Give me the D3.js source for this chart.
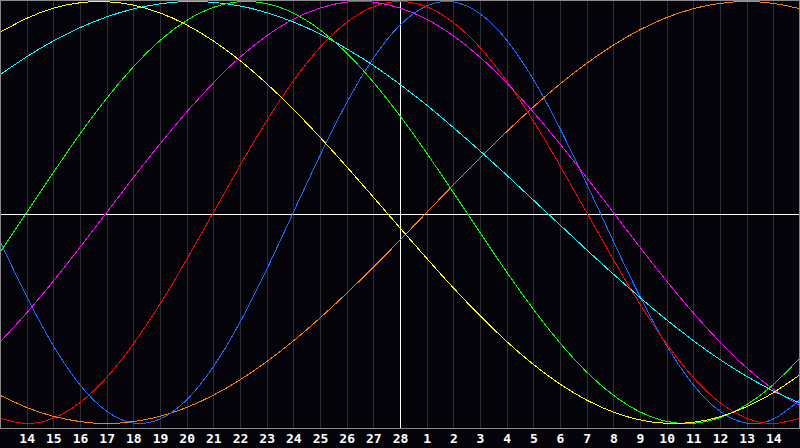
<!DOCTYPE html>
<html>
<head>
<meta charset="utf-8">
<script src="https://cdn.jsdelivr.net/npm/d3@7"></script>
<style>
  html, body { margin: 0; padding: 0; background: #05040a; }
  svg { display: block; }
</style>
</head>
<body>
<svg id="chart" width="800" height="448"></svg>
<script>
// Day labels shown on the axis (index 0..28)
const dayLabels = [14,15,16,17,18,19,20,21,22,23,24,25,26,27,28,1,2,3,4,5,6,7,8,9,10,11,12,13,14];
// Series values for day index -1 .. 29 (first and last are the neighbouring days, clipped at the plot edges)
const physical     = [-0.136,-0.398,-0.631,-0.817,-0.942,-0.998,-0.979,-0.888,-0.731,-0.520,-0.270,0,0.270,0.520,0.731,0.888,0.979,0.998,0.942,0.817,0.631,0.398,0.136,-0.136,-0.398,-0.631,-0.817,-0.942,-0.998,-0.979,-0.888];
const emotional    = [-0.975,-1,-0.975,-0.901,-0.782,-0.623,-0.434,-0.223,0,0.223,0.434,0.623,0.782,0.901,0.975,1,0.975,0.901,0.782,0.623,0.434,0.223,0,-0.223,-0.434,-0.623,-0.782,-0.901,-0.975,-1,-0.975];
const intellectual = [-0.189,0,0.189,0.372,0.541,0.690,0.815,0.910,0.972,0.999,0.990,0.945,0.866,0.756,0.618,0.458,0.282,0.095,-0.095,-0.282,-0.458,-0.618,-0.756,-0.866,-0.945,-0.990,-0.999,-0.972,-0.910,-0.815,-0.690];
const intuitive    = [-0.614,-0.476,-0.325,-0.165,0,0.165,0.325,0.476,0.614,0.736,0.837,0.916,0.969,0.997,0.997,0.969,0.916,0.837,0.736,0.614,0.476,0.325,0.165,0,-0.165,-0.325,-0.476,-0.614,-0.736,-0.837,-0.916];
const aesthetic    = [0.854,0.920,0.968,0.994,0.999,0.983,0.946,0.889,0.813,0.720,0.611,0.489,0.357,0.217,0.073,-0.073,-0.217,-0.357,-0.489,-0.611,-0.720,-0.813,-0.889,-0.946,-0.983,-0.999,-0.994,-0.968,-0.920,-0.854,-0.769];
const awareness    = [-0.866,-0.924,-0.966,-0.991,-1,-0.991,-0.966,-0.924,-0.866,-0.793,-0.707,-0.609,-0.5,-0.383,-0.259,-0.131,0,0.131,0.259,0.383,0.5,0.609,0.707,0.793,0.866,0.924,0.966,0.991,1,0.991,0.966];
const spiritual    = [0.653,0.738,0.813,0.876,0.927,0.965,0.989,1.000,0.996,0.979,0.947,0.903,0.846,0.776,0.697,0.607,0.509,0.403,0.292,0.177,0.059,-0.059,-0.177,-0.292,-0.403,-0.509,-0.607,-0.697,-0.776,-0.846,-0.903];

const seriesList = [
  { name: "awareness",    values: awareness,    color: "#ff8000" },
  { name: "physical",     values: physical,     color: "#1a6aff" },
  { name: "emotional",    values: emotional,    color: "#ff0000" },
  { name: "intuitive",    values: intuitive,    color: "#ff00ff" },
  { name: "spiritual",    values: spiritual,    color: "#00ffff" },
  { name: "intellectual", values: intellectual, color: "#00ff00" },
  { name: "aesthetic",    values: aesthetic,    color: "#ffff00" }
];

const W = 800, plotBottom = 428;
const svg = d3.select("#chart");

const x = d3.scaleLinear().domain([-1, 29]).range([0, W]);
const y = d3.scaleLinear().domain([-1, 1]).range([423.5, 1.5]);

svg.append("rect").attr("x", 0).attr("y", 0).attr("width", W).attr("height", 448).attr("fill", "#05040a");

// vertical day grid lines
svg.append("g").selectAll("line").data(dayLabels.map((d, i) => i)).join("line")
  .attr("x1", i => Math.round(x(i)) + 0.5).attr("x2", i => Math.round(x(i)) + 0.5)
  .attr("y1", 0).attr("y2", plotBottom)
  .attr("stroke", "#303034").attr("stroke-width", 1).attr("shape-rendering", "crispEdges");

// centre axes (white)
svg.append("line").attr("x1", 0).attr("x2", W).attr("y1", 214.5).attr("y2", 214.5)
  .attr("stroke", "#ffffff").attr("stroke-width", 1).attr("shape-rendering", "crispEdges");
svg.append("line").attr("x1", Math.round(x(14)) + 0.5).attr("x2", Math.round(x(14)) + 0.5)
  .attr("y1", 0).attr("y2", plotBottom)
  .attr("stroke", "#ffffff").attr("stroke-width", 1).attr("shape-rendering", "crispEdges");

// curves
const line = d3.line().x((d, i) => x(i - 1)).y(d => y(d)).curve(d3.curveNatural);
svg.append("clipPath").attr("id", "clip").append("rect")
  .attr("x", 0).attr("y", 0).attr("width", W).attr("height", plotBottom);
svg.append("g").attr("clip-path", "url(#clip)").selectAll("path").data(seriesList).join("path")
  .attr("d", s => line(s.values))
  .attr("fill", "none").attr("stroke", s => s.color).attr("stroke-width", 1)
  .attr("shape-rendering", "crispEdges");

// frame
svg.append("rect").attr("x", 0.5).attr("y", 0.5).attr("width", W - 1).attr("height", plotBottom - 0.5)
  .attr("fill", "none").attr("stroke", "#8a8a8a").attr("stroke-width", 1).attr("shape-rendering", "crispEdges");

// axis labels
const axis = d3.axisBottom(x).tickValues(d3.range(0, 29)).tickFormat(i => dayLabels[i]).tickSize(0).tickPadding(0);
const ag = svg.append("g").attr("transform", `translate(0,${plotBottom})`).call(axis);
ag.select(".domain").remove();
ag.selectAll("text")
  .attr("y", 15).attr("dy", 0)
  .attr("fill", "#ffffff")
  .attr("font-family", "'DejaVu Sans Mono', monospace")
  .attr("font-weight", "bold")
  .attr("font-size", 13);
</script>
</body>
</html>
